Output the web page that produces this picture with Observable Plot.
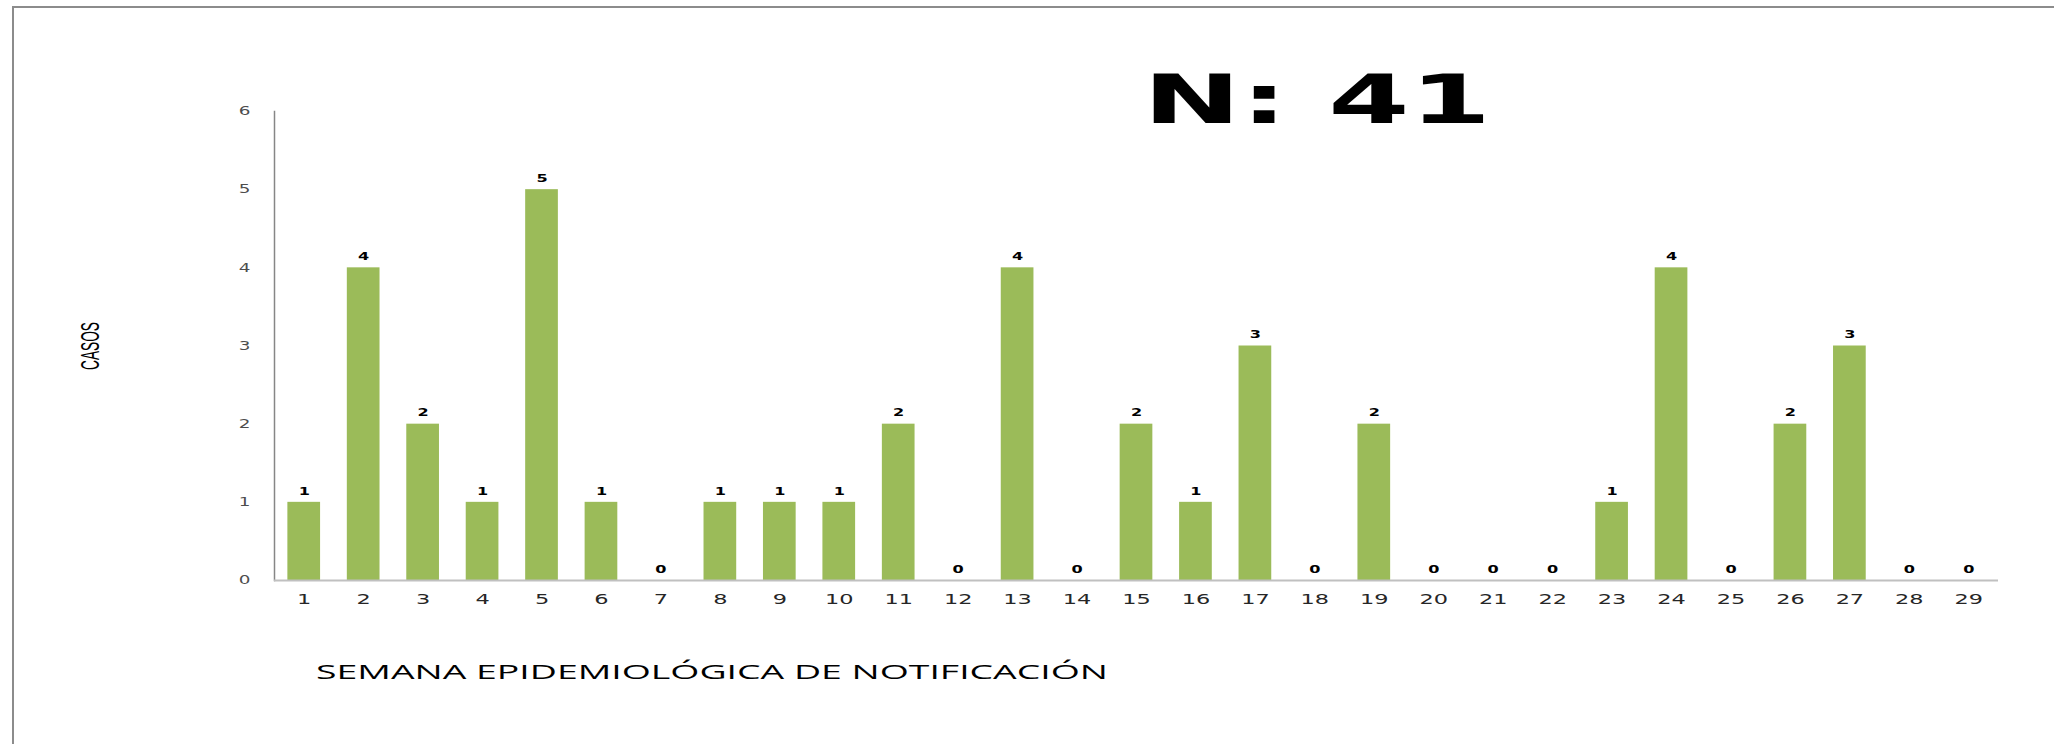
<!DOCTYPE html>
<html>
<head>
<meta charset="utf-8">
<script src="https://cdn.jsdelivr.net/npm/d3@7"></script>
<script src="https://cdn.jsdelivr.net/npm/@observablehq/plot@0.6"></script>
<style>
  html, body { margin: 0; padding: 0; background: #fff; }
  #page { position: relative; width: 2054px; height: 744px; overflow: hidden; background: #fff; }
  #chart { position: absolute; left: 0; top: 0; }
  .bt { position: absolute; left: 12px; top: 6px; width: 2042px; height: 2px; background: #8c8c8c; }
  .bl { position: absolute; left: 12px; top: 6px; width: 2px; height: 738px; background: #8c8c8c; }
  #title { position: absolute; left: 1143px; top: 67px; font-family: "DejaVu Sans"; font-weight: bold;
           font-size: 67px; line-height: 67px; white-space: nowrap; color: #000; transform-origin: 0 0; }
  #xlabel { position: absolute; left: 316px; top: 662px; font-family: "Open Sans"; font-size: 20px;
            line-height: 20px; white-space: nowrap; color: #000; transform-origin: 0 0; }
</style>
</head>
<body>
<div id="page">
  <div class="bt"></div>
  <div class="bl"></div>
  <div id="chart"></div>
  <div id="title">N: 41</div>
  <div id="xlabel">SEMANA EPIDEMIOLÓGICA DE NOTIFICACIÓN</div>
</div>
<script>
const weeks = [1,2,3,4,5,6,7,8,9,10,11,12,13,14,15,16,17,18,19,20,21,22,23,24,25,26,27,28,29];
const cases = [1,4,2,1,5,1,0,1,1,1,2,0,4,0,2,1,3,0,2,0,0,0,1,4,0,2,3,0,0];
const yTicks = [0,1,2,3,4,5,6];
const yLabel = "CASOS";

const data = weeks.map((w, i) => ({week: w, cases: cases[i]}));

const chart = Plot.plot({
  width: 2054,
  height: 744,
  marginLeft: 274,
  marginRight: 56,
  marginTop: 111,
  marginBottom: 164,
  style: {fontFamily: "DejaVu Sans", background: "transparent"},
  x: {type: "band", domain: weeks, paddingInner: 0.45, paddingOuter: 0.225, round: false},
  y: {domain: [0, 6]},
  marks: [
    Plot.barY(data, {x: "week", y: "cases", fill: "#9bbb59"}),
    Plot.frame({anchor: "left", stroke: "#868686", strokeWidth: 1.5}),
    Plot.ruleY([0], {stroke: "#c0c0c0", strokeWidth: 2}),
    Plot.axisY({ticks: yTicks, tickFormat: d3.format("d"), tickSize: 0, tickPadding: 24, fontSize: 11.5, fill: "#4d4d4d",
                label: yLabel, labelAnchor: "center", labelOffset: 193, labelArrow: "none"}),
    Plot.axisX({tickSize: 0, tickPadding: 14, fontSize: 14, fill: "#262626", label: null}),
    Plot.text(data, {x: "week", y: "cases", text: d => String(d.cases), dy: -11,
                     fontSize: 10, fontWeight: "bold", fill: "#000"})
  ]
});
document.getElementById("chart").appendChild(chart);

// horizontally widen the glyphs (the reference is stretched sideways)
d3.select(chart).selectAll("text").each(function() {
  const t = this.textContent;
  if (t === yLabel) {
    this.setAttribute("font-size", "25");
    this.setAttribute("font-family", "Liberation Sans");
    this.setAttribute("fill", "#000");
    this.setAttribute("textLength", 48);
    this.setAttribute("lengthAdjust", "spacingAndGlyphs");
  } else {
    const w = this.getComputedTextLength();
    if (w > 0) {
      this.setAttribute("textLength", (w * 1.6).toFixed(1));
      this.setAttribute("lengthAdjust", "spacingAndGlyphs");
    }
  }
});

function stretchTo(id, target) {
  const el = document.getElementById(id);
  const w = el.getBoundingClientRect().width;
  el.style.transform = `scaleX(${target / w})`;
}
stretchTo("title", 348);
stretchTo("xlabel", 792);
</script>
</body>
</html>
